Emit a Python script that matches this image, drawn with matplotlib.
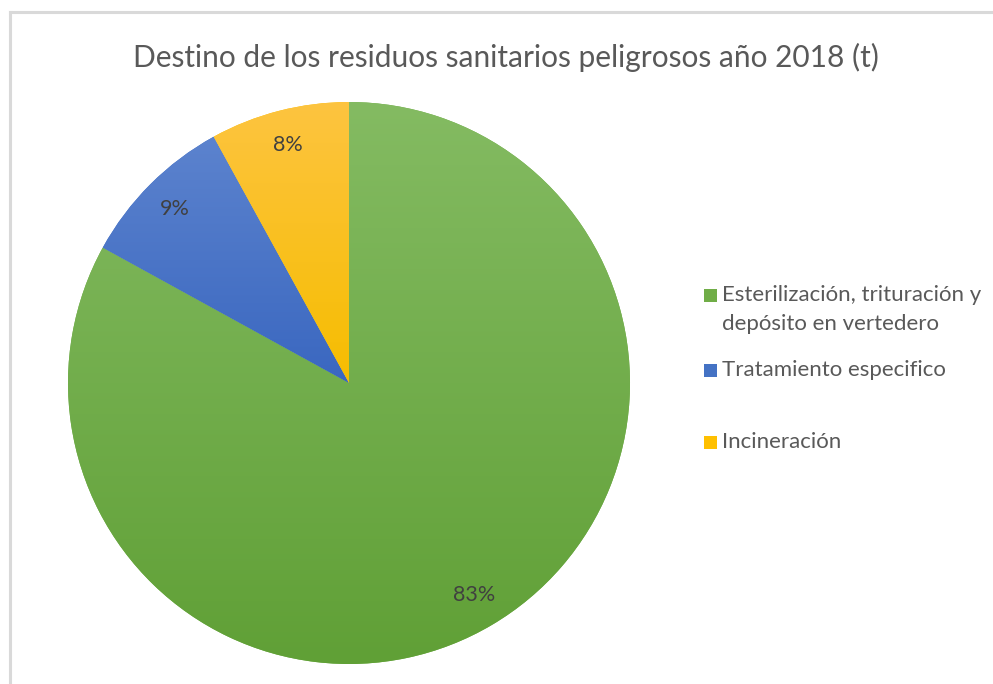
import numpy as np
import matplotlib
matplotlib.use("Agg")
import matplotlib.pyplot as plt
from matplotlib.colors import LinearSegmentedColormap
from matplotlib.patches import Rectangle
from matplotlib.lines import Line2D

plt.rcParams['font.family'] = ['Lato', 'DejaVu Sans']

title = "Destino de los residuos sanitarios peligrosos año 2018 (t)"
labels = ["Esterilización, trituración y\ndepósito en vertedero",
          "Tratamiento especifico",
          "Incineración"]
shares = [83, 9, 8]
# base colour, top-of-gradient, bottom-of-gradient
colors = ['#70ad47', '#4472c4', '#ffc000']
grad_top = ['#84bb62', '#5c83ce', '#fdc440']
grad_bot = ['#60a036', '#3a67c0', '#f6bd00']

W, H = 993, 684
fig = plt.figure(figsize=(W / 100, H / 100), dpi=100)

# pie centred at (349, 383) px, radius 281 px
cx, cy, r = 349, 383, 281
ax = fig.add_axes([(cx - r) / W, (H - cy - r) / H, 2 * r / W, 2 * r / H])
wedges, texts, autotexts = ax.pie(shares, colors=colors, startangle=90,
                                  counterclock=False, autopct='%1.0f%%',
                                  pctdistance=0.875, radius=1)

# vertical gradient inside each slice
for w, ct, cb in zip(wedges, grad_top, grad_bot):
    ext = w.get_path().get_extents()
    cmap = LinearSegmentedColormap.from_list('g', [cb, ct])
    im = ax.imshow(np.linspace(0, 1, 256).reshape(-1, 1), cmap=cmap,
                   extent=[ext.x0, ext.x1, ext.y0, ext.y1], origin='lower',
                   aspect='auto', zorder=1.5, interpolation='bilinear')
    im.set_clip_path(w)

for t in autotexts:
    t.set_color('#404040')
    t.set_fontsize(15.5)
    t.set_zorder(5)

ax.set_xlim(-1, 1)
ax.set_ylim(-1, 1)
ax.set_aspect('auto')
ax.axis('off')

fig.text(506 / W, 1 - 57 / H, title, ha='center', va='center',
         fontsize=21.5, color='#595959')

# legend
leg_y = [295, 370, 442]
for lab, c, y in zip(labels, colors, leg_y):
    fig.patches.append(Rectangle((704 / W, 1 - (y + 7) / H), 13 / W, 13 / H,
                                 transform=fig.transFigure, facecolor=c,
                                 edgecolor='none'))
    for i, line in enumerate(lab.split('\n')):
        fig.text(722 / W, 1 - (y + i * 29) / H, line, ha='left', va='center',
                 fontsize=16, color='#595959')

# chart frame (only left and top edges visible)
fig.lines.append(Line2D([10 / W, 10 / W], [0, 1 - 12 / H], transform=fig.transFigure,
                        color='#d9d9d9', lw=2.2))
fig.lines.append(Line2D([10 / W, 1], [1 - 12 / H, 1 - 12 / H], transform=fig.transFigure,
                        color='#d9d9d9', lw=2.2))

fig.savefig('out.png', dpi=100, facecolor='white')
